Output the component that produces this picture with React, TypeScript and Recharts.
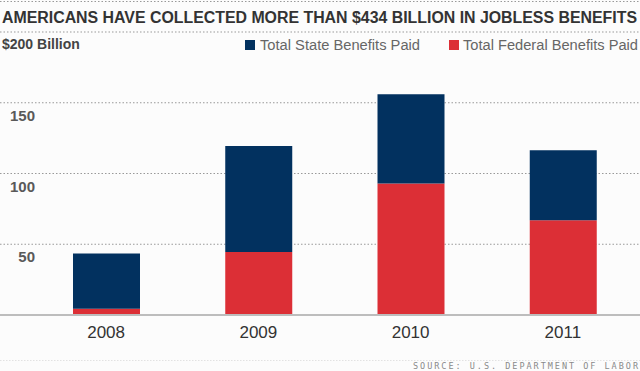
import React from "react";
import { BarChart, Bar, XAxis, YAxis, CartesianGrid } from "recharts";

const years = ["2008", "2009", "2010", "2011"];
const federalPaid = [4.5, 44.5, 93, 67];
const statePaid = [39, 75, 63, 49.5];
const yTicks = [0, 50, 100, 150, 200];

const title = "AMERICANS HAVE COLLECTED MORE THAN $434 BILLION IN JOBLESS BENEFITS";
const source = "SOURCE: U.S. DEPARTMENT OF LABOR";
const stateName = "Total State Benefits Paid";
const federalName = "Total Federal Benefits Paid";
const STATE_COLOR = "#02315f";
const FED_COLOR = "#dc2f36";

const data = years.map((y, i) => ({ year: y, federal: federalPaid[i], state: statePaid[i] }));

const W = 640;
const H = 371;
const TITLE_SCALE = 0.8;

const renderYTick = (props: any) => {
  const { y, payload } = props;
  const v = payload.value;
  if (v === 0) return <g />;
  if (v === 200) {
    return (
      <text x={2} y={y + 17} fontSize={14} fontWeight="bold" fill="#444" fontFamily="Liberation Sans, Arial, sans-serif" textAnchor="start">
        $200 Billion
      </text>
    );
  }
  return (
    <text x={35} y={y + 18} fontSize={15} fontWeight="bold" fill="#595959" fontFamily="Liberation Sans, Arial, sans-serif" textAnchor="end">
      {v}
    </text>
  );
};

export default function App() {
  return (
    <div style={{ position: "absolute", left: 0, top: 0, width: W, height: H, background: "#fcfcfc", overflow: "hidden" }}>
      <BarChart width={W} height={H} data={data} margin={{ top: 32, right: 0, bottom: 26, left: -1 }}>
        <CartesianGrid vertical={false} stroke="#999" strokeDasharray="1.5 2" />
        <XAxis
          dataKey="year"
          height={30}
          padding={{ left: 30, right: 1 }}
          axisLine={{ stroke: "#bdbdbd", strokeWidth: 2 }}
          tickLine={false}
          tickSize={0}
          tickMargin={11}
          tick={{ fontSize: 17, fill: "#333", fontFamily: "Liberation Sans, Arial, sans-serif" }}
        />
        <YAxis
          width={1}
          domain={[0, 200]}
          ticks={yTicks}
          interval={0}
          axisLine={false}
          tickLine={false}
          tick={renderYTick}
        />
        <Bar dataKey="federal" name={federalName} stackId="a" fill={FED_COLOR} barSize={67} isAnimationActive={false} />
        <Bar dataKey="state" name={stateName} stackId="a" fill={STATE_COLOR} barSize={67} isAnimationActive={false} />
      </BarChart>
      <svg width={W} height={H} style={{ position: "absolute", left: 0, top: 0, pointerEvents: "none" }}>
        <line x1={0} x2={W} y1={1.5} y2={1.5} stroke="#999" strokeDasharray="1.5 2" />
        <g transform={`translate(2, 22.5) scale(${TITLE_SCALE}, 1)`}>
          <text x={0} y={0} fontSize={17} fontWeight="bold" fill="#333"
            fontFamily="'Liberation Sans', Arial, sans-serif"
            textLength={635 / TITLE_SCALE} lengthAdjust="spacingAndGlyphs">
            {title}
          </text>
        </g>
        <rect x={245} y={40} width={10} height={10} fill={STATE_COLOR} />
        <text x={260} y={50} fontSize={14} fill="#666" fontFamily="Liberation Sans, Arial, sans-serif" textLength={160} lengthAdjust="spacingAndGlyphs">
          {stateName}
        </text>
        <rect x={449} y={40} width={10} height={10} fill={FED_COLOR} />
        <text x={463} y={50} fontSize={14} fill="#666" fontFamily="Liberation Sans, Arial, sans-serif" textLength={175} lengthAdjust="spacingAndGlyphs">
          {federalName}
        </text>
        <line x1={0} x2={W} y1={360.5} y2={360.5} stroke="#e2e2e2" strokeDasharray="1.5 1.5" />
        <text x={413} y={368.5} fontSize={8.5} fill="#8a8a8a" fontFamily="'DejaVu Sans Mono', monospace" textLength={225} lengthAdjust="spacing">
          {source}
        </text>
      </svg>
    </div>
  );
}
